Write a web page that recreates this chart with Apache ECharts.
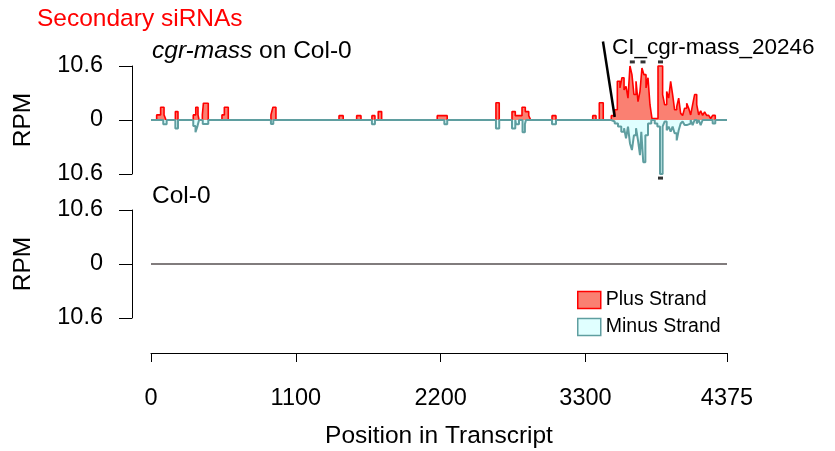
<!DOCTYPE html>
<html>
<head>
<meta charset="utf-8">
<script src="https://cdn.jsdelivr.net/npm/echarts@6/dist/echarts.min.js"></script>
<style>
  html, body { margin: 0; padding: 0; background: #fff; }
  #chart { width: 835px; height: 451px; }
</style>
</head>
<body>
<div id="chart"></div>
<script>
// transcript length and x ticks
const transcriptLen = 4375;
const xTicks = [0, 1100, 2200, 3300, 4375];
const rpmMax = 10.6;

// plus strand: segment start positions and RPM held until the next start
const plusPos = [0, 43, 73, 99, 114, 185, 205, 321, 340, 357, 365, 390, 398, 435, 539, 557, 587, 911, 926, 949,
  1428, 1460, 1562, 1595, 1678, 1701, 1726, 1752, 2174, 2250, 2620, 2645, 2742, 2767, 2818, 2843, 2869, 2884,
  3046, 3076, 3355, 3380, 3405, 3435, 3496, 3522, 3542, 3562, 3577, 3593, 3608, 3623, 3638, 3653, 3668, 3684,
  3699, 3714, 3729, 3744, 3760, 3775, 3790, 3805, 3851, 3886, 3901, 3917, 3932, 3947, 3962, 3977, 3993, 4008,
  4023, 4038, 4053, 4069, 4084, 4099, 4114, 4129, 4145, 4160, 4175, 4190, 4205, 4220, 4236, 4251, 4266, 4286, 4375];
const plusRpm = [0, 1.0, 2.5, 1.0, 0, 1.65, 0, 1.0, 2.5, 1.0, 0, 1.0, 3.3, 0, 1.0, 2.5, 0, 1.0, 2.5, 0,
  0.85, 0, 0.85, 0, 0.85, 0, 1.65, 0, 0.85, 0, 3.4, 0, 1.65, 0.85, 2.5, 1.65, 0.85, 0,
  0.85, 0, 0.85, 0, 3.4, 0, 0.85, 2.0, 7.6, 6.3, 8.3, 5.9, 6.6, 4.3, 10.6, 8.9, 5.0, 7.6,
  3.6, 5.6, 10.2, 8.9, 6.3, 8.3, 3.0, 0.3, 10.6, 5.0, 3.0, 5.6, 4.3, 7.6, 5.0, 2.0, 2.6, 4.3,
  1.3, 0.9, 2.3, 3.3, 2.3, 1.0, 3.0, 5.0, 3.0, 1.0, 1.8, 0.9, 1.6, 0.9, 0.9, 0.3, 0.9, 0, 0];

// minus strand (drawn downward)
const minusPos = [0, 93, 119, 185, 205, 321, 338, 353, 365, 393, 435, 911, 929, 1678, 1701, 2228, 2250, 2620, 2645,
  2742, 2767, 2773, 2795, 2822, 2840, 2848, 3046, 3076, 3496, 3522, 3547, 3572, 3593, 3608, 3623, 3638, 3653,
  3668, 3684, 3699, 3714, 3724, 3739, 3755, 3775, 3800, 3826, 3846, 3866, 3886, 3901, 3917, 3932, 3947, 3962,
  3977, 3993, 4008, 4023, 4038, 4053, 4069, 4084, 4099, 4114, 4129, 4145, 4160, 4175, 4190, 4266, 4286, 4375];
const minusRpm = [0, 0.85, 0, 1.65, 0, 1.2, 2.4, 1.2, 0, 0.8, 0, 0.8, 0, 0.85, 0, 0.85, 0, 1.65, 0,
  1.65, 0, 0.85, 0, 2.4, 0.85, 0, 0.85, 0, 0.3, 0.7, 1.3, 2.3, 1.6, 3.6, 1.3, 4.6, 5.9,
  3.0, 1.6, 4.0, 6.9, 2.3, 8.3, 3.0, 0.7, 0, 0.7, 1.3, 10.6, 1.3, 0.3, 2.0, 1.3, 2.3, 1.3,
  2.6, 4.0, 2.0, 0.7, 0.3, 1.0, 1.3, 0.7, 0, 1.0, 0, 0.7, 0, 1.0, 0, 0.7, 0, 0];

// Col-0 control: nothing detected
const colPos = [0, 4375];
const colRpm = [0, 0];

// CI cluster markers
const ciPlusPos = [3656, 3737, 3870];
const ciMinusPos = [3870];
const ciMarkRpm = 11.4;
const ciLabel = 'CI_cgr-mass_20246';
const ciLineFrom = [3433, 15.4];
const ciLineTo = [3522, 0.6];

const FONT = '"Liberation Sans", Arial, Helvetica, sans-serif';
const TXT = 24.5;
const NUM = 23.5;

function steps(pos, vals, sign) {
  return pos.map((p, i) => [p, sign * vals[i]]);
}

const chart = echarts.init(document.getElementById('chart'), null, { renderer: 'canvas' });

const yAxisBase = {
  type: 'value',
  min: -rpmMax,
  max: rpmMax,
  interval: rpmMax,
  offset: 19,
  name: 'RPM',
  nameLocation: 'middle',
  nameGap: 96,
  nameTextStyle: { fontSize: TXT, color: '#000', fontFamily: FONT },
  axisLine: { show: true, onZero: false, lineStyle: { color: '#000', width: 1 } },
  axisTick: { show: true, length: 13, lineStyle: { color: '#000' } },
  axisLabel: {
    margin: 29, fontSize: NUM, color: '#000', fontFamily: FONT,
    formatter: v => Math.abs(v) < 1e-9 ? '0' : Math.abs(v).toFixed(1)
  },
  splitLine: { show: false }
};

const option = {
  animation: false,
  backgroundColor: '#fff',
  grid: [
    { left: 151, right: 108, top: 66, height: 108 },
    { left: 151, right: 108, top: 210, height: 108 }
  ],
  xAxis: [
    { gridIndex: 0, type: 'value', min: 0, max: transcriptLen, show: false },
    {
      gridIndex: 1, type: 'value', min: 0, max: transcriptLen,
      position: 'bottom', offset: 35,
      name: 'Position in Transcript', nameLocation: 'middle', nameGap: 71,
      nameTextStyle: { fontSize: TXT, color: '#000', fontFamily: FONT },
      axisLine: { show: true, onZero: false, lineStyle: { color: '#000', width: 1 } },
      axisTick: { show: true, length: 9, customValues: xTicks, lineStyle: { color: '#000' } },
      axisLabel: { customValues: xTicks, margin: 34, fontSize: NUM, color: '#000', fontFamily: FONT, formatter: v => String(v) },
      splitLine: { show: false }
    }
  ],
  yAxis: [
    Object.assign({ gridIndex: 0 }, yAxisBase),
    Object.assign({ gridIndex: 1 }, yAxisBase)
  ],
  legend: {
    orient: 'vertical',
    left: 572,
    top: 285,
    itemWidth: 23,
    itemHeight: 17,
    itemGap: 7,
    selectedMode: false,
    textStyle: { fontSize: 19.5, color: '#000', fontFamily: FONT },
    data: [
      { name: 'Plus Strand', icon: 'rect', itemStyle: { color: '#fa8072', borderColor: '#ff0000', borderWidth: 1.5 } },
      { name: 'Minus Strand', icon: 'rect', itemStyle: { color: '#e0ffff', borderColor: '#5f9ea0', borderWidth: 1.5 } }
    ]
  },
  title: [
    { text: 'Secondary siRNAs', left: 32, top: 2, textStyle: { fontSize: TXT, fontWeight: 'normal', color: '#ff0000', fontFamily: FONT } },
    {
      text: '{i|cgr-mass} on Col-0', left: 147, top: 34,
      textStyle: {
        fontSize: TXT, fontWeight: 'normal', color: '#000', fontFamily: FONT,
        rich: { i: { fontStyle: 'italic', fontSize: TXT, color: '#000', fontFamily: FONT } }
      }
    },
    { text: 'Col-0', left: 147, top: 179, textStyle: { fontSize: TXT, fontWeight: 'normal', color: '#000', fontFamily: FONT } }
  ],
  series: [
    {
      name: 'Plus Strand', type: 'line', xAxisIndex: 0, yAxisIndex: 0, step: 'end', z: 2,
      symbol: 'none', clip: false, data: steps(plusPos, plusRpm, 1),
      lineStyle: { color: '#ff0000', width: 1.6 }, itemStyle: { color: '#fa8072' },
      areaStyle: { color: '#fa8072', opacity: 1 }
    },
    {
      name: 'Minus Strand', type: 'line', xAxisIndex: 0, yAxisIndex: 0, step: 'end', z: 3,
      symbol: 'none', clip: false, data: steps(minusPos, minusRpm, -1),
      lineStyle: { color: '#5f9ea0', width: 2 }, itemStyle: { color: '#e0ffff' },
      areaStyle: { color: '#e0ffff', opacity: 1 }
    },
    {
      name: 'Plus Strand', type: 'line', xAxisIndex: 1, yAxisIndex: 1, step: 'end',
      symbol: 'none', data: steps(colPos, colRpm, 1),
      lineStyle: { color: '#8a7072', width: 2 }
    },
    {
      name: 'Minus Strand', type: 'line', xAxisIndex: 1, yAxisIndex: 1, step: 'end',
      symbol: 'none', data: steps(colPos, colRpm, -1),
      lineStyle: { color: '#7e8182', width: 1.5 }
    },
    {
      name: 'CI', type: 'scatter', xAxisIndex: 0, yAxisIndex: 0, clip: false, z: 4,
      symbol: 'rect', symbolSize: [5, 3], itemStyle: { color: '#000' },
      data: ciPlusPos.map(p => [p, ciMarkRpm]).concat(ciMinusPos.map(p => [p, -ciMarkRpm]))
    }
  ]
};

chart.setOption(option);

// CI annotation label and pointer line, placed through the data scale
const from = chart.convertToPixel({ gridIndex: 0 }, ciLineFrom);
const to = chart.convertToPixel({ gridIndex: 0 }, ciLineTo);
chart.setOption({
  graphic: [
    { type: 'line', z: 10, shape: { x1: from[0], y1: from[1], x2: to[0], y2: to[1] }, style: { stroke: '#000', lineWidth: 2.5 } },
    { type: 'text', z: 10, x: from[0] + 9, y: from[1] - 5, style: { text: ciLabel, font: '22.5px ' + FONT, fill: '#000' } }
  ]
});
</script>
</body>
</html>
